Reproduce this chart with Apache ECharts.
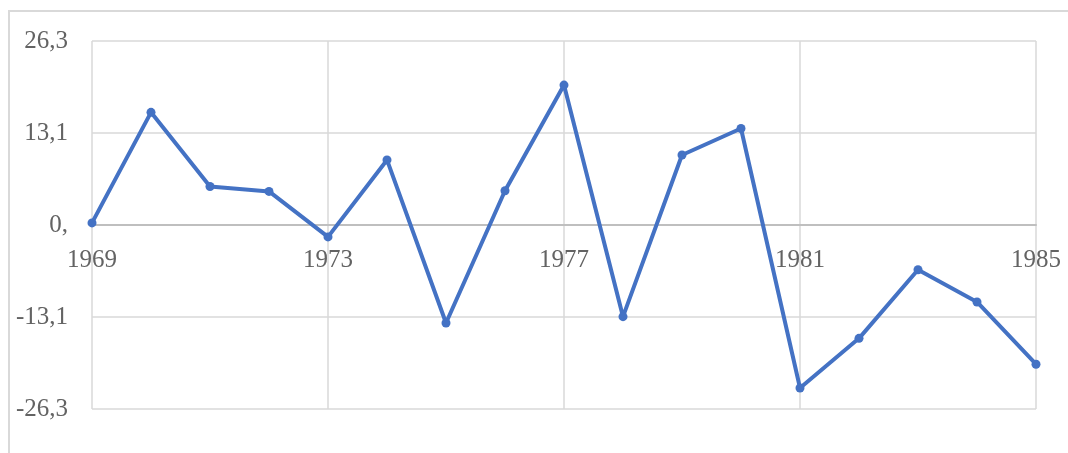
<!DOCTYPE html>
<html>
<head>
<meta charset="utf-8">
<script src="https://cdn.jsdelivr.net/npm/echarts@6/dist/echarts.min.js"></script>
<style>
  html, body { margin: 0; padding: 0; background: #fff; }
  #chart { position: absolute; left: 0; top: 0; width: 1068px; height: 453px; }
  #frame {
    position: absolute; left: 8px; top: 10px; width: 1080px; height: 460px;
    border-top: 2px solid #d9d9d9; border-left: 2px solid #d9d9d9;
    pointer-events: none;
  }
</style>
</head>
<body>
<div id="chart"></div>
<div id="frame"></div>
<script>
  var years = ['1969', '1970', '1971', '1972', '1973', '1974', '1975', '1976', '1977',
               '1978', '1979', '1980', '1981', '1982', '1983', '1984', '1985'];
  var values = [0.3, 16.1, 5.5, 4.8, -1.7, 9.3, -14.0, 4.9, 20.0,
                -13.1, 10.0, 13.8, -23.3, -16.2, -6.4, -11.0, -19.9];
  var yTicks = { '26.3': '26,3', '13.15': '13,1', '0': '0,', '-13.15': '-13,1', '-26.3': '-26,3' };

  var chart = echarts.init(document.getElementById('chart'));
  chart.setOption({
    animation: false,
    grid: { left: 92, right: 32, top: 41, bottom: 44 },
    xAxis: {
      type: 'category',
      data: years,
      boundaryGap: false,
      // axis sits on the zero line, half way down the plot
      offset: -184,
      axisLine: { onZero: false, lineStyle: { color: '#bfbfbf', width: 2 } },
      axisTick: { show: false },
      axisLabel: {
        interval: 3, margin: 23,
        color: '#636363', fontFamily: 'Liberation Serif', fontSize: 25
      },
      splitLine: { show: true, interval: 3, lineStyle: { color: '#d9d9d9', width: 1.5 } }
    },
    yAxis: {
      type: 'value',
      min: -26.3, max: 26.3, interval: 13.15,
      axisLine: { show: false },
      axisTick: { show: false },
      axisLabel: {
        margin: 24,
        color: '#636363', fontFamily: 'Liberation Serif', fontSize: 25,
        formatter: function (v) {
          var k = String(Math.round(v * 100) / 100);
          return yTicks[k] !== undefined ? yTicks[k] : k;
        }
      },
      splitLine: { lineStyle: { color: '#d9d9d9', width: 1.5 } }
    },
    series: [{
      type: 'line',
      data: values,
      symbol: 'circle',
      symbolSize: 9,
      itemStyle: { color: '#4472c4' },
      lineStyle: { color: '#4472c4', width: 4 }
    }]
  });
</script>
</body>
</html>
